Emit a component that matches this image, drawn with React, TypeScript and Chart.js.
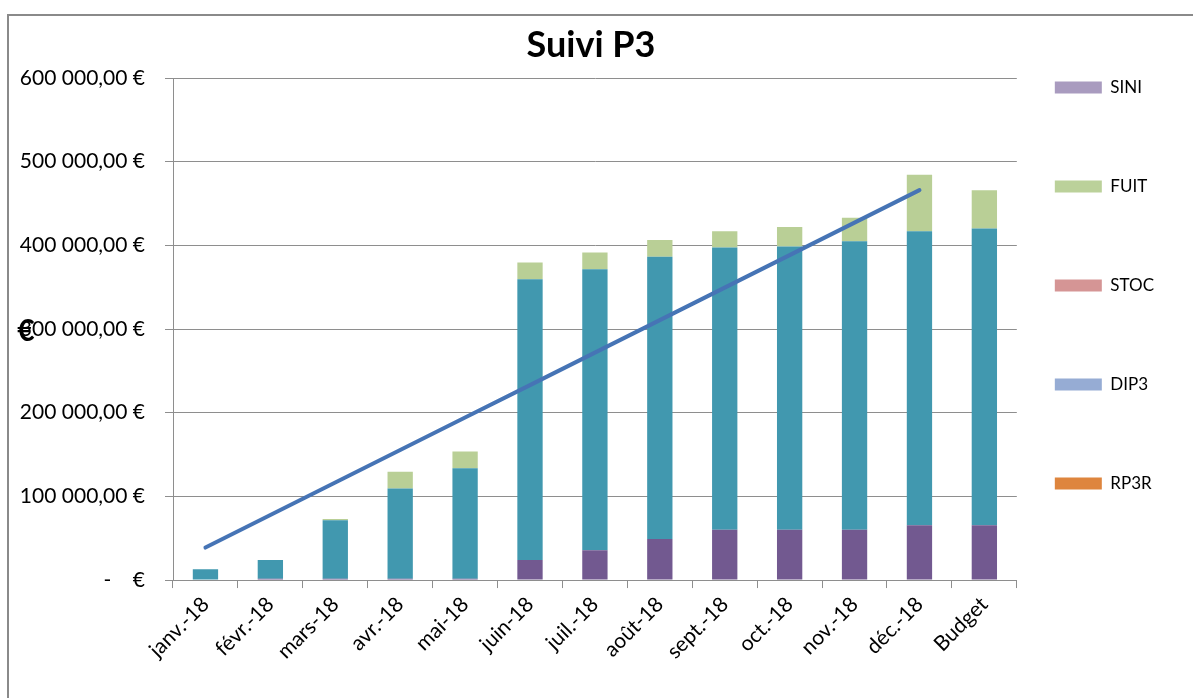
import React, { useEffect, useRef } from "react";
import { Chart, registerables } from "chart.js";

Chart.register(...registerables);

const categories = [
  "janv.-18", "févr.-18", "mars-18", "avr.-18", "mai-18", "juin-18", "juil.-18",
  "août-18", "sept.-18", "oct.-18", "nov.-18", "déc.-18", "Budget",
];

// stacked bar series (bottom to top)
const siniValues = [0, 1500, 1500, 1500, 1500, 24000, 35500, 49000, 60000, 60000, 60000, 65500, 65500];
const p3Values = [13000, 22500, 70000, 108000, 132000, 335500, 336000, 337500, 337500, 338500, 345000, 351500, 354500];
const fuitValues = [0, 0, 1500, 20000, 20000, 20000, 20000, 20000, 19500, 23500, 28000, 67500, 46000];

// cumulative budget line
const objectifValues = [38833, 77667, 116500, 155333, 194167, 233000, 271833, 310667, 349500, 388333, 427167, 466000, null];

const yTickLabels = ["-    €", "100 000,00 €", "200 000,00 €", "300 000,00 €", "400 000,00 €", "500 000,00 €", "600 000,00 €"];

const legendNames = ["SINI", "FUIT", "STOC", "DIP3", "RP3R"];
const legendColors = ["#A99BBF", "#BBD19A", "#D59595", "#96ACD4", "#DE853E"];

const yAxisTitle = "€";
const chartTitle = "Suivi P3";

const FONT = "Lato";
const GRID = "#8e8e8e";

const euroTitlePlugin = {
  id: "euroTitle",
  afterDraw(chart: any) {
    const ctx = chart.ctx;
    const y = chart.scales.y;
    ctx.save();
    ctx.font = `bold 30px ${FONT}`;
    ctx.fillStyle = "#000";
    ctx.textAlign = "center";
    ctx.textBaseline = "middle";
    ctx.fillText(yAxisTitle, y.left + 8, (chart.chartArea.top + chart.chartArea.bottom) / 2 + 2);
    ctx.restore();
  },
};

export default function App() {
  const ref = useRef<HTMLCanvasElement | null>(null);

  useEffect(() => {
    if (!ref.current) return;
    const chart = new Chart(ref.current, {
      type: "bar",
      data: {
        labels: categories,
        datasets: [
          {
            type: "line",
            label: "Budget cumulé",
            data: objectifValues,
            borderColor: "#4674B5",
            backgroundColor: "#4674B5",
            borderWidth: 4,
            pointRadius: 0,
            borderCapStyle: "round",
            fill: false,
            tension: 0,
            stack: "line",
            order: 0,
          } as any,
          {
            label: "SINI",
            data: siniValues,
            backgroundColor: "#725990",
            borderWidth: 0,
            stack: "bars",
            order: 1,
          },
          {
            label: "P3",
            data: p3Values,
            backgroundColor: "#4198AF",
            borderWidth: 0,
            stack: "bars",
            order: 1,
          },
          {
            label: "FUIT",
            data: fuitValues,
            backgroundColor: "#B9CF96",
            borderWidth: 0,
            stack: "bars",
            order: 1,
          },
        ],
      },
      options: {
        responsive: false,
        animation: false,
        layout: { padding: { top: 41, left: 18, right: 29, bottom: 30 } },
        datasets: { bar: { barPercentage: 0.39, categoryPercentage: 1 } },
        scales: {
          x: {
            stacked: true,
            offset: true,
            grid: {
              display: true,
              offset: true,
              drawOnChartArea: false,
              drawTicks: true,
              tickLength: 8,
              color: GRID,
            },
            border: { display: true, color: GRID, width: 1 },
            ticks: {
              autoSkip: false,
              maxRotation: 45,
              minRotation: 45,
              padding: 4,
              color: "#000",
              font: { family: FONT, size: 21 },
            },
          },
          y: {
            stacked: true,
            min: 0,
            max: 600000,
            afterFit: (scale: any) => {
              scale.width = 155;
            },
            grid: { color: GRID, drawTicks: true, tickLength: 8 },
            border: { display: true, color: GRID, width: 1 },
            ticks: {
              stepSize: 100000,
              padding: 20,
              color: "#000",
              font: { family: FONT, size: 21 },
              callback: (_v: any, i: number) => yTickLabels[i],
            },
          },
        },
        plugins: {
          title: {
            display: true,
            text: chartTitle,
            color: "#000",
            font: { family: FONT, size: 36, weight: "bold", lineHeight: "8px" },
            padding: { top: 0, bottom: 29 },
          },
          legend: {
            display: true,
            position: "right",
            align: "start",
            labels: {
              boxWidth: 47,
              boxHeight: 12,
              padding: 38,
              color: "#000",
              font: { family: FONT, size: 17, lineHeight: "61px" },
              generateLabels: () =>
                legendNames.map((name, i) => ({
                  text: [name] as any,
                  fillStyle: legendColors[i],
                  strokeStyle: legendColors[i],
                  lineWidth: 0,
                  hidden: false,
                  index: i,
                })),
            },
            onClick: () => {},
          },
          tooltip: { enabled: false },
        },
      } as any,
      plugins: [euroTitlePlugin],
    });
    return () => chart.destroy();
  }, []);

  return (
    <div style={{ position: "fixed", left: 0, top: 0, width: 1193, height: 698, background: "#fff" }}>
      <div
        style={{
          position: "absolute",
          left: 7,
          top: 14,
          width: 1200,
          height: 700,
          borderLeft: "2px solid #8a8a8a",
          borderTop: "2px solid #8a8a8a",
        }}
      />
      <canvas
        ref={ref}
        width={1193}
        height={698}
        style={{ position: "absolute", left: 0, top: 0, display: "block" }}
      />
    </div>
  );
}
